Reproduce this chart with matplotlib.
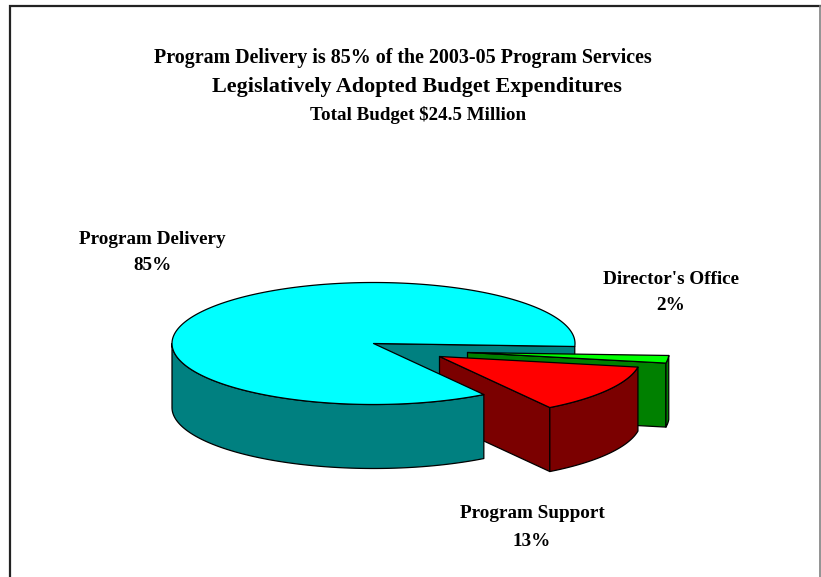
import numpy as np
import matplotlib
matplotlib.use("Agg")
import matplotlib.pyplot as plt
from matplotlib.patches import Polygon

# Budget shares, percent of the total
categories = ["Program Delivery", "Program Support", "Director's Office"]
shares = [85, 13, 2]

title_lines = [
    "Program Delivery is 85% of the 2003-05 Program Services",
    "Legislatively Adopted Budget Expenditures",
]
subtitle = "Total Budget $24.5 Million"

# Pie geometry in canvas pixels
W, H = 821, 577
CX, CY = 373.5, 343.5
RX, RY = 201.5, 61.0
DEPTH = 64.0
START_DEG = -2.8
OFFSETS = {"Program Delivery": (0, 0), "Program Support": (66, 13), "Director's Office": (94, 9)}
TOP = {"Program Delivery": "#00FFFF", "Program Support": "#FF0000", "Director's Office": "#00FF00"}
SIDE = {"Program Delivery": "#008080", "Program Support": "#7B0000", "Director's Office": "#008000"}
LABELS = {
    "Program Delivery": (152.5, 239, 265),
    "Program Support": (532, 514, 541),
    "Director's Office": (671, 279, 305),
}

plt.rcParams["font.family"] = ["Liberation Serif", "DejaVu Serif"]
fig = plt.figure(figsize=(W / 100, H / 100), dpi=100)
ax = fig.add_axes([0, 0, 1, 1])
ax.set_xlim(0, W)
ax.set_ylim(H, 0)
ax.axis("off")

# Slice angle ranges: first slice runs counter-clockwise, the rest follow on
spans = {}
a = START_DEG
for name, s in zip(categories, shares):
    spans[name] = (a, a + s * 3.6)
    a += s * 3.6


def rim(a0, a1, ox, oy, dz=0.0, n=None):
    n = n or max(4, int(abs(a1 - a0)))
    t = np.radians(np.linspace(a0, a1, n))
    return np.column_stack([CX + ox + RX * np.cos(t), CY + oy - RY * np.sin(t) + dz])


def poly(pts, color, z):
    ax.add_patch(Polygon(pts, closed=True, facecolor=color, edgecolor="black", lw=0.9, joinstyle="round", zorder=z))


def radial_face(name, angle, z):
    ox, oy = OFFSETS[name]
    p = rim(angle, angle, ox, oy, n=1)[0]
    c = np.array([CX + ox, CY + oy])
    d = np.array([0, DEPTH])
    poly([c, p, p + d, c + d], SIDE[name], z)


def outer_wall(name, a0, a1, z):
    ox, oy = OFFSETS[name]
    upper = rim(a0, a1, ox, oy)
    lower = rim(a0, a1, ox, oy, DEPTH)
    poly(np.vstack([upper, lower[::-1]]), SIDE[name], z)


def top_face(name, z):
    ox, oy = OFFSETS[name]
    a0, a1 = spans[name]
    poly(np.vstack([[CX + ox, CY + oy], rim(a0, a1, ox, oy)]), TOP[name], z)


# Back wall of the gap in the large slice
main, support, office = categories
radial_face(main, spans[main][0], 1)

# Director's Office slice, behind everything in front of it
o0, o1 = spans[office]
radial_face(office, o0, 2)
outer_wall(office, o0, o1, 2)
top_face(office, 2.1)

# Program Support slice
s0, s1 = spans[support]
radial_face(support, s0, 3)
outer_wall(support, s0, s1, 3)
top_face(support, 3.1)

# Program Delivery slice sits on top; only its front rim is visible
m0, m1 = spans[main]
outer_wall(main, 180, m1, 4)
top_face(main, 4.1)

# Chart frame: heavy left and top rules, light right rule, open along the bottom
ax.plot([10, 10, W], [H, 5.5, 5.5], color="#222222", lw=1.6, zorder=5, solid_joinstyle="miter")
ax.plot([820.3, 820.3], [5.5, H], color="#808080", lw=1.2, zorder=5)

# Titles
ax.text(402.5, 57.5, title_lines[0], ha="center", va="center", fontsize=14.45, fontweight="bold", color="black")
ax.text(417, 87, title_lines[1], ha="center", va="center", fontsize=15.9, fontweight="bold", color="black")
ax.text(418.5, 115, subtitle, ha="center", va="center", fontsize=13.7, fontweight="bold", color="black")

# Slice labels
for name, s in zip(categories, shares):
    x, y0, y1 = LABELS[name]
    ax.text(x, y0, name, ha="center", va="center", fontsize=13.8, fontweight="bold", color="black")
    ax.text(x, y1, f"{s}%", ha="center", va="center", fontsize=13.8, fontweight="bold", color="black")

fig.savefig("out.png", dpi=100)
